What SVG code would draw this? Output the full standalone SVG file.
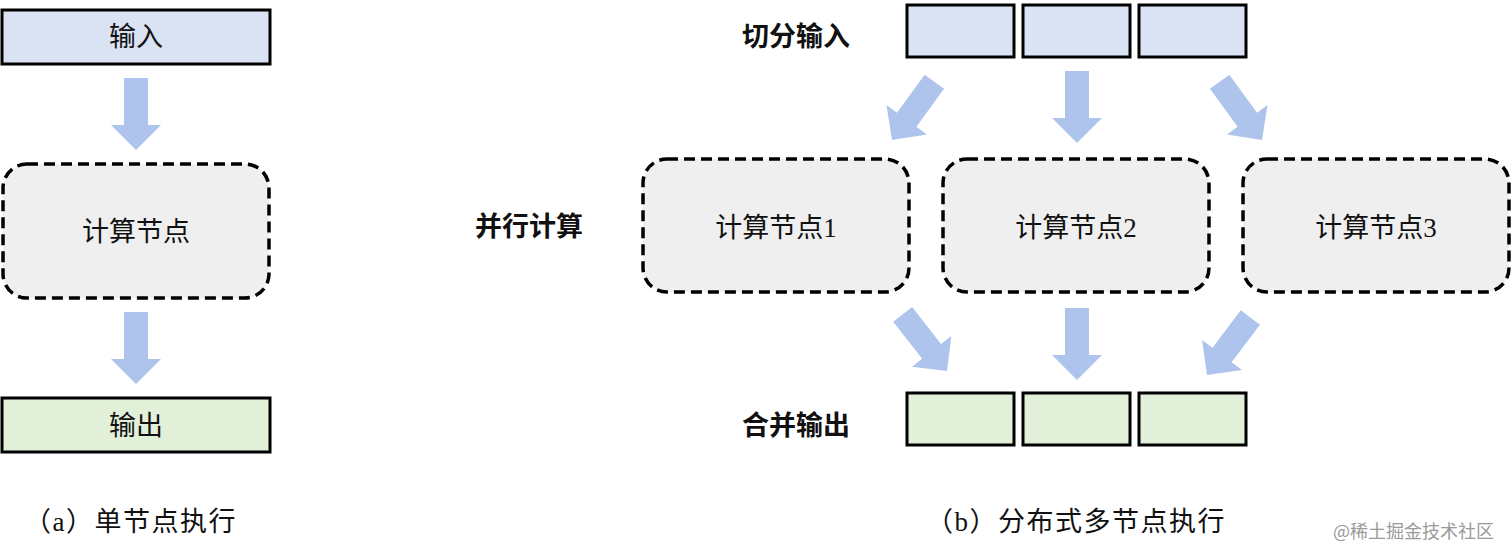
<svg xmlns="http://www.w3.org/2000/svg" width="1512" height="558" viewBox="0 0 1512 558">
<style>
.solid{stroke:#000;stroke-width:3}
.in{fill:#dae3f3}
.out{fill:#e2efd9}
.node{fill:#efefef;stroke:#000;stroke-width:3.5;stroke-dasharray:11 6}
.t{font-family:"Liberation Serif","Noto Sans CJK SC",serif;font-size:27px;fill:#111;text-anchor:middle;dominant-baseline:central}
.b{font-family:"Noto Sans CJK SC",sans-serif;font-size:27px;font-weight:bold;fill:#111;text-anchor:middle;dominant-baseline:central}
.cap{font-family:"Liberation Serif","Noto Sans CJK SC",serif;font-size:27px;letter-spacing:1.5px;fill:#111;dominant-baseline:central}
.wm{font-family:"Noto Sans CJK SC",sans-serif;font-size:18px;fill:#9a9a9a;dominant-baseline:central}
.arr{fill:#aec4ec}
</style>
<defs>
<path id="ar" d="M-12,-72 L12,-72 L12,-25 L25,-25 L0,0 L-25,-25 L-12,-25 Z"/>
</defs>
<g id="left-input"><rect class="solid in" x="2" y="10" width="268" height="54"/><text class="t" x="136" y="37">输入</text></g>
<g id="left-node"><rect class="node" x="3" y="164" width="266" height="134" rx="24"/><text class="t" x="136" y="232">计算节点</text></g>
<g id="left-output"><rect class="solid out" x="2" y="398" width="268" height="54"/><text class="t" x="136" y="426">输出</text></g>
<g id="split-label"><text class="b" x="796" y="34">切分输入</text></g>
<g id="split-inputs">
<rect class="solid in" x="907" y="5" width="107" height="52"/>
<rect class="solid in" x="1023" y="5" width="107" height="52"/>
<rect class="solid in" x="1139" y="5" width="107" height="52"/>
</g>
<g id="parallel-label"><text class="b" x="529" y="224">并行计算</text></g>
<g id="node1"><rect class="node" x="643" y="159" width="266" height="133" rx="24"/><text class="t" x="776" y="228">计算节点1</text></g>
<g id="node2"><rect class="node" x="943" y="159" width="266" height="133" rx="24"/><text class="t" x="1076" y="228">计算节点2</text></g>
<g id="node3"><rect class="node" x="1243" y="159" width="266" height="133" rx="24"/><text class="t" x="1376" y="228">计算节点3</text></g>
<g id="merge-label"><text class="b" x="796" y="423">合并输出</text></g>
<g id="merge-outputs">
<rect class="solid out" x="907" y="393" width="107" height="52"/>
<rect class="solid out" x="1023" y="393" width="107" height="52"/>
<rect class="solid out" x="1139" y="393" width="107" height="52"/>
</g>
<g id="connectors" class="arr">
<use href="#ar" transform="translate(136,150)"/>
<use href="#ar" transform="translate(136,384)"/>
<use href="#ar" transform="translate(892,140) rotate(36)"/>
<use href="#ar" transform="translate(1077,143)"/>
<use href="#ar" transform="translate(1262,140) rotate(-36)"/>
<use href="#ar" transform="translate(947,371) rotate(-38)"/>
<use href="#ar" transform="translate(1077,380)"/>
<use href="#ar" transform="translate(1207,375) rotate(37)"/>
</g>
<g id="captions">
<text class="cap" x="24" y="522">（a）单节点执行</text>
<text class="cap" x="926" y="522">（b）分布式多节点执行</text>
<text class="wm" x="1333" y="530">@稀土掘金技术社区</text>
</g>
</svg>
